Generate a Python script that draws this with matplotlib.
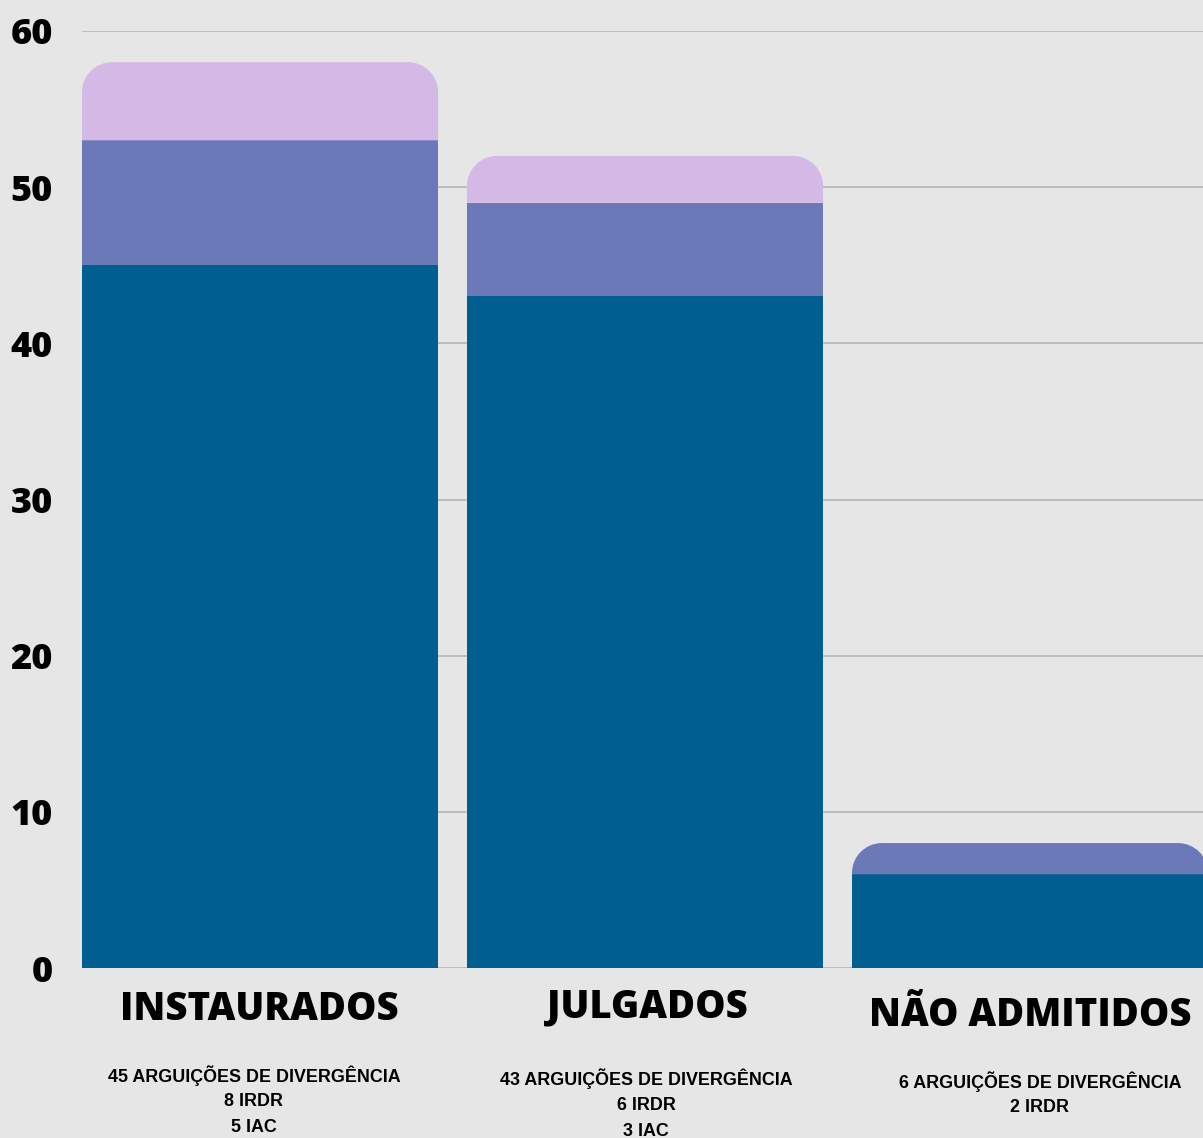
import matplotlib.pyplot as plt
import numpy as np
from matplotlib.path import Path
from matplotlib.patches import PathPatch

categories = ['INSTAURADOS', 'JULGADOS', 'NÃO ADMITIDOS']
arguicoes = [45, 43, 6]
irdr = [8, 6, 2]
iac = [5, 3, 0]
yticks = [0, 10, 20, 30, 40, 50, 60]
sub_labels = [
    ['45 ARGUIÇÕES DE DIVERGÊNCIA', '8 IRDR', '5 IAC'],
    ['43 ARGUIÇÕES DE DIVERGÊNCIA', '6 IRDR', '3 IAC'],
    ['6 ARGUIÇÕES DE DIVERGÊNCIA', '2 IRDR'],
]

c_dark = '#005e90'
c_mid = '#6b79b9'
c_light = '#d4b8e6'
bg = '#e6e6e6'

W, H = 1203, 1138
fig = plt.figure(figsize=(W / 100, H / 100), dpi=100, facecolor=bg)
ax = fig.add_axes([82 / W, (H - 968) / H, 1 - 82 / W, (968 - 31) / H])
ax.set_facecolor(bg)

x = np.arange(len(categories))
width = 0.925


def top_segment(ax, xc, bottom, height, color, rx=0.078, ry=1.92):
    # bar segment with rounded top corners (radius given in data units)
    x0, x1 = xc - width / 2, xc + width / 2
    t = bottom + height
    k = 0.5523
    verts = [
        (x0, bottom), (x0, t - ry),
        (x0, t - ry + k * ry), (x0 + rx - k * rx, t), (x0 + rx, t),
        (x1 - rx, t),
        (x1 - rx + k * rx, t), (x1, t - ry + k * ry), (x1, t - ry),
        (x1, bottom), (x0, bottom),
    ]
    codes = [Path.MOVETO, Path.LINETO,
             Path.CURVE4, Path.CURVE4, Path.CURVE4,
             Path.LINETO,
             Path.CURVE4, Path.CURVE4, Path.CURVE4,
             Path.LINETO, Path.CLOSEPOLY]
    ax.add_patch(PathPatch(Path(verts, codes), facecolor=color,
                           edgecolor='none', zorder=3))


for i in range(len(categories)):
    a, b, c = arguicoes[i], irdr[i], iac[i]
    ax.bar(x[i], a, width, color=c_dark, zorder=3, linewidth=0)
    if c > 0:
        ax.bar(x[i], b, width, bottom=a, color=c_mid, zorder=3, linewidth=0)
        top_segment(ax, x[i], a + b, c, c_light)
    else:
        top_segment(ax, x[i], a, b, c_mid)

ax.set_xlim(-width / 2, (1203 - 260) / 385)
ax.set_ylim(0, 60)
ax.set_yticks(yticks)
ax.set_yticklabels([str(v) for v in yticks], fontsize=26,
                   fontfamily='Open Sans', fontweight='heavy')
ax.set_xticks([])
ax.tick_params(axis='y', length=0, pad=21)
ax.yaxis.grid(True, color='#b5b5b5', linewidth=1.2)
ax.set_axisbelow(True)
for s in ax.spines.values():
    s.set_visible(False)

# category titles and detail lines
title_pos = [(259, 1010), (647, 1007), (1030, 1015)]
sub_pos = [(254, 1076), (646, 1079), (1040, 1082)]
for i, name in enumerate(categories):
    tx, ty = title_pos[i]
    fig.text(tx / W, 1 - ty / H, name, ha='center', va='center',
             fontsize=27.5, fontfamily='Open Sans', fontweight='heavy')
    sx, sy = sub_pos[i]
    for j, line in enumerate(sub_labels[i]):
        fig.text(sx / W, 1 - (sy + 26 * j) / H, line, ha='center', va='center',
                 fontsize=12.9, fontfamily='Liberation Sans', fontweight='bold')

fig.savefig('out.png', dpi=100, facecolor=bg)
